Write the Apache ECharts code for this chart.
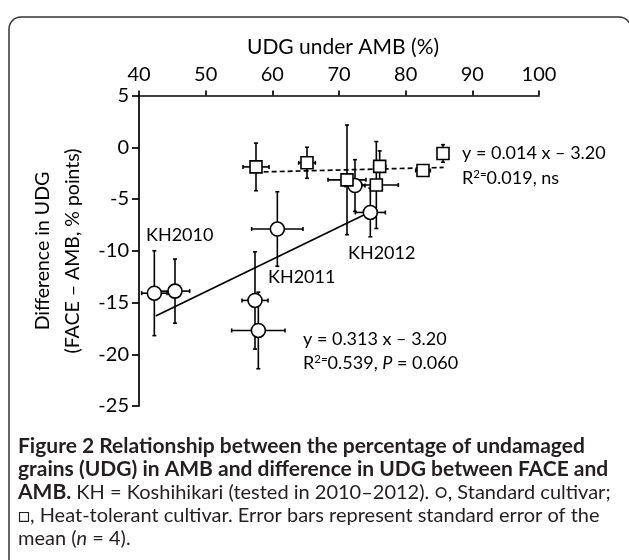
<!DOCTYPE html>
<html>
<head>
<meta charset="utf-8">
<script src="https://cdn.jsdelivr.net/npm/echarts@6/dist/echarts.min.js"></script>
<style>
    html, body { margin: 0; padding: 0; background: #fff; }
    #chart { width: 629px; height: 560px; }
</style>
</head>
<body>
<div id="chart"></div>
<script>
    // standard cultivar (circles): AMB UDG, FACE-AMB difference, SE x, SE y
    var stdX = [42.3, 45.4, 57.4, 57.9, 60.75, 72.4, 74.7];
    var stdY = [-14.1, -13.9, -14.8, -17.7, -7.9, -3.7, -6.3];
    var stdXErr = [1.9, 2.2, 1.95, 4.0, 3.85, 1.5, 2.25];
    var stdYErr = [4.1, 3.1, 4.7, 3.7, 3.6, 2.5, 2.35];

    // heat-tolerant cultivar (squares)
    var htX = [57.55, 65.2, 71.2, 76.1, 75.6, 82.6, 85.6];
    var htY = [-1.9, -1.5, -3.15, -1.85, -3.65, -2.25, -0.6];
    var htXErr = [1.95, 1.25, 2.85, 0.9, 3.3, 1.1, 0.3];
    var htYErr = [2.3, 1.5, 5.3, 1.5, 4.2, 0.3, 0.85];

    // regression lines (end points)
    var stdFit = [[42.5, -16.3], [74.5, -6.3]];
    var htFit = [[57.5, -2.4], [85.7, -1.95]];

    var xTicks = [40, 100, 10];
    var yTicks = [-25, 5, 5];

    var FONT = 'Lato';

    function pack(xs, ys, ex, ey) {
        return xs.map(function (x, i) { return [x, ys[i], ex[i], ey[i]]; });
    }
    var stdData = pack(stdX, stdY, stdXErr, stdYErr);
    var htData = pack(htX, htY, htXErr, htYErr);

    function ln(x1, y1, x2, y2) {
        return {
            type: 'line',
            shape: {x1: x1, y1: y1, x2: x2, y2: y2},
            style: {stroke: '#000', lineWidth: 1.6}
        };
    }

    function errorBars(params, api) {
        var x = api.value(0), y = api.value(1), ex = api.value(2), ey = api.value(3);
        var l = api.coord([x - ex, y]), r = api.coord([x + ex, y]);
        var t = api.coord([x, y + ey]), b = api.coord([x, y - ey]);
        var cap = 2;
        return {
            type: 'group',
            children: [
                ln(l[0], l[1], r[0], r[1]),
                ln(l[0], l[1] - cap, l[0], l[1] + cap),
                ln(r[0], r[1] - cap, r[0], r[1] + cap),
                ln(t[0], t[1], b[0], b[1]),
                ln(t[0] - cap, t[1], t[0] + cap, t[1]),
                ln(b[0] - cap, b[1], b[0] + cap, b[1])
            ]
        };
    }

    var txt = {fill: '#000', fontFamily: FONT, fontSize: 18};
    var rich = {
        sup: {fontSize: 11.5, fontFamily: FONT, fill: '#000', verticalAlign: 'top', lineHeight: 19},
        i: {fontStyle: 'italic', fontSize: 18, fontFamily: FONT, fill: '#000'}
    };

    function label(x, y, s) {
        return {
            type: 'text', x: x, y: y,
            style: Object.assign({text: s, verticalAlign: 'middle', rich: rich}, txt)
        };
    }

    var chart = echarts.init(document.getElementById('chart'));
    chart.setOption({
        animation: false,
        backgroundColor: '#fff',
        grid: {left: 139, right: 90, top: 95.5, bottom: 154},
        xAxis: {
            type: 'value', position: 'top',
            min: xTicks[0], max: xTicks[1], interval: xTicks[2],
            axisLine: {onZero: false, lineStyle: {color: '#000', width: 1.7}},
            axisTick: {length: 5, lineStyle: {color: '#000', width: 1.7}},
            axisLabel: {color: '#000', fontSize: 20, fontFamily: FONT, margin: 11},
            splitLine: {show: false}
        },
        yAxis: {
            type: 'value',
            min: yTicks[0], max: yTicks[1], interval: yTicks[2],
            axisLine: {show: true, onZero: false, lineStyle: {color: '#000', width: 1.7}},
            axisTick: {show: true, length: 7, lineStyle: {color: '#000', width: 1.7}},
            axisLabel: {color: '#000', fontSize: 20, fontFamily: FONT, margin: 10},
            splitLine: {show: false}
        },
        series: [
            {type: 'custom', renderItem: errorBars, data: stdData, z: 1, silent: true},
            {type: 'custom', renderItem: errorBars, data: htData, z: 1, silent: true},
            {
                type: 'line', data: stdFit, symbol: 'none', z: 2,
                lineStyle: {color: '#000', width: 1.7}
            },
            {
                type: 'line', data: htFit, symbol: 'none', z: 2,
                lineStyle: {color: '#000', width: 1.7, type: [5, 3]}
            },
            {
                type: 'scatter', data: stdData, symbol: 'circle', symbolSize: 14, z: 3,
                itemStyle: {color: '#fff', borderColor: '#000', borderWidth: 1.6, opacity: 1}
            },
            {
                type: 'scatter', data: htData, symbol: 'rect', symbolSize: 12, z: 3,
                itemStyle: {color: '#fff', borderColor: '#000', borderWidth: 1.6, opacity: 1}
            }
        ],
        graphic: [
            {
                type: 'rect', z: -1, silent: true,
                shape: {x: 9, y: 17, width: 622, height: 600, r: 12},
                style: {fill: 'none', stroke: '#333', lineWidth: 1.5}
            },
            {
                type: 'text', x: 343, y: 47,
                style: {text: 'UDG under AMB (%)', align: 'center', verticalAlign: 'middle',
                    fill: '#000', fontFamily: FONT, fontSize: 21}
            },
            {
                type: 'text', x: 58, y: 251, rotation: Math.PI / 2,
                style: {text: 'Difference in UDG\n(FACE – AMB, % points)', align: 'center',
                    verticalAlign: 'middle', lineHeight: 30,
                    fill: '#000', fontFamily: FONT, fontSize: 19.5}
            },
            label(146, 235, 'KH2010'),
            label(268, 277, 'KH2011'),
            label(348, 253, 'KH2012'),
            label(462, 153, 'y = 0.014 x – 3.20'),
            label(462, 178, 'R{sup|2=}0.019, ns'),
            label(303, 339, 'y = 0.313 x – 3.20'),
            label(303, 363, 'R{sup|2=}0.539, {i|P} = 0.060'),
            {
                type: 'text', x: 18, y: 435,
                style: {
                    text: '{b|Figure 2 Relationship between the percentage of undamaged}\n' +
                        '{b|grains (UDG) in AMB and difference in UDG between FACE and}\n' +
                        '{b|AMB.} KH = Koshihikari (tested in 2010–2012). ○, Standard cultivar;\n' +
                        '□, Heat-tolerant cultivar. Error bars represent standard error of the\n' +
                        'mean ({i|n} = 4).',
                    verticalAlign: 'top', lineHeight: 23,
                    fill: '#231f20', fontFamily: FONT, fontSize: 20,
                    rich: {
                        b: {fontWeight: 'bold', fontSize: 21, fontFamily: FONT, fill: '#231f20', lineHeight: 23},
                        i: {fontStyle: 'italic', fontSize: 20, fontFamily: FONT, fill: '#231f20', lineHeight: 23}
                    }
                }
            }
        ]
    });
</script>
</body>
</html>
